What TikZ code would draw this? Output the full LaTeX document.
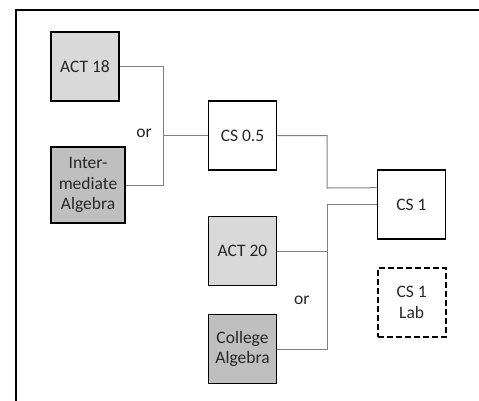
\documentclass[tikz,border=0pt]{standalone}
\usepackage{fontspec}
\setmainfont{Carlito}
\definecolor{lightfill}{HTML}{D9D9D9}
\definecolor{darkfill}{HTML}{BFBFBF}
\definecolor{conncol}{HTML}{808080}
\definecolor{txt}{HTML}{262626}
\begin{document}
\begin{tikzpicture}[x=1pt,y=-1pt,
  course/.style={draw=black,line width=1.7pt,minimum width=68pt,minimum height=69pt,
    inner sep=2pt,align=center,text=txt,font=\fontsize{17.5}{20.5}\selectfont},
  lightbox/.style={course,fill=lightfill},
  darkbox/.style={course,fill=darkfill},
  labbox/.style={course,dashed,dash pattern=on 6pt off 3pt},
  conn/.style={draw=conncol,line width=1pt},
  ortext/.style={text=txt,font=\fontsize{17.5}{20.5}\selectfont}]
\useasboundingbox (0,0) rectangle (479,400);
% frame
\coordinate (fbl) at (15.5,410);
\coordinate (ftl) at (15.5,10);
\coordinate (ftr) at (490,10);
\draw[line width=2pt,black] (fbl) -- (ftl) -- (ftr);
% nodes
\node[lightbox] (act18) at (85,66.5) {ACT 18};
\node[darkbox,minimum width=74pt,minimum height=76pt] (inter) at (88,185) {Inter-\\mediate\\Algebra};
\node[course] (cs05) at (242.5,135.7) {CS 0.5};
\node[course] (cs1) at (411.5,204.7) {CS 1};
\node[lightbox] (act20) at (242.5,251) {ACT 20};
\node[darkbox] (colalg) at (242.5,349) {College\\Algebra};
\node[labbox] (lab) at (411.7,302.5) {CS 1\\Lab};
\node[ortext] (or1) at (144,133) {or};
\node[ortext] (or2) at (301.7,300) {or};
% connectors
\coordinate (j1) at (163.3,135.7);
\draw[conn] (act18.east) -| (j1) |- (inter.east);
\draw[conn] (j1) -- (cs05.west);
\path (cs1.west) ++(0,-17) coordinate (in1);
\coordinate (j2) at (327,188);
\draw[conn] (cs05.east) -| (j2) -- (in1);
\coordinate (j3) at (327,204.7);
\draw[conn] (cs1.west) -- (j3) |- (colalg.east);
\draw[conn] (act20.east) -- (act20.east -| j3);
\end{tikzpicture}
\end{document}
